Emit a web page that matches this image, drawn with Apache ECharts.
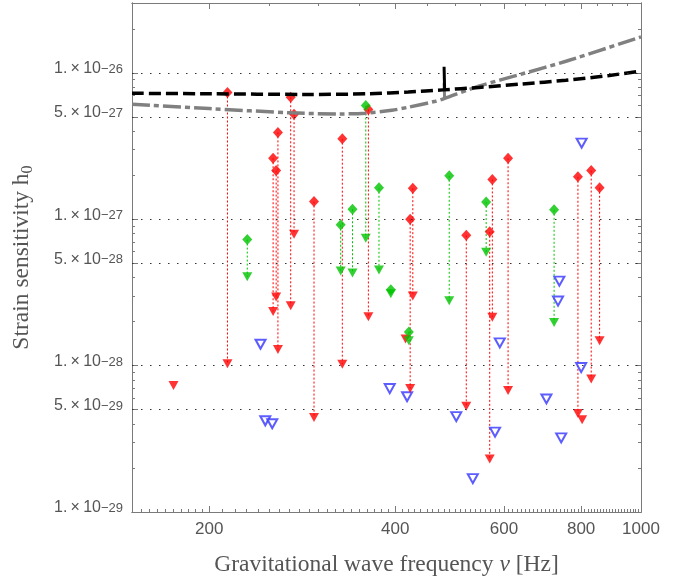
<!DOCTYPE html>
<html>
<head>
<meta charset="utf-8">
<script src="https://cdn.jsdelivr.net/npm/echarts@6/dist/echarts.min.js"></script>
<style>
	html, body { margin: 0; padding: 0; background: #fff; }
	#chart { width: 682px; height: 581px; }
</style>
</head>
<body>
<div id="chart"></div>
<script>
	// red: detections (diamond) with dotted line down to the upper limit (triangle)
	var redFreq   = [214.1, 253.8, 256.7, 258.4, 271.0, 274.4, 295.6, 328.5, 362.0, 423.0, 427.2, 521.4, 569.0, 574.6, 609.3, 790.5, 830.6, 857.0];
	var redTop    = [7.34e-27, 2.61e-27, 2.15e-27, 3.92e-27, 6.81e-27, 5.22e-27, 1.32e-27, 3.55e-27, 5.62e-27, 1.0e-27, 1.63e-27, 7.76e-28, 8.2e-28, 1.87e-27, 2.61e-27, 1.95e-27, 2.15e-27, 1.64e-27];
	var redBottom = [1.03e-28, 2.34e-28, 2.94e-28, 1.29e-28, 2.56e-28, 7.9e-28, 4.43e-29, 1.02e-28, 2.16e-28, 6.97e-29, 2.99e-28, 5.27e-29, 2.3e-29, 2.14e-28, 6.77e-29, 4.7e-29, 8.1e-29, 1.48e-28];
	// red upper limits with no diamond
	var redLimFreq = [175.1, 415.8, 803.0];
	var redLim     = [7.3e-29, 1.52e-28, 4.27e-29];

	var greenFreq   = [230.5, 326.5, 341.2, 358.5, 376.6, 393.6, 420.9, 489.3, 561.5, 723.3];
	var greenTop    = [7.26e-28, 9.17e-28, 1.17e-27, 5.98e-27, 1.64e-27, 3.3e-28, 1.7e-28, 1.98e-27, 1.31e-27, 1.16e-27];
	var greenBottom = [4.05e-28, 4.43e-28, 4.3e-28, 7.42e-28, 4.5e-28, 3.1e-28, 1.48e-28, 2.77e-28, 5.95e-28, 1.97e-28];

	var blueFreq = [242.2, 246.5, 253.0, 392.0, 418.2, 502.3, 534.3, 580.4, 590.8, 702.9, 737.6, 734.0, 742.7, 800.1, 801.5];
	var blueLim  = [1.40e-28, 4.20e-29, 4.01e-29, 6.97e-29, 6.13e-29, 4.48e-29, 1.69e-29, 3.51e-29, 1.43e-28, 5.92e-29, 3.78e-28, 2.76e-28, 3.21e-29, 9.7e-29, 3.31e-27];

	// sensitivity curves
	var blackFreq  = [150, 200, 286, 364, 420, 478, 546, 643, 756, 889, 1000];
	var blackCurve = [7.25e-27, 7.2e-27, 7.12e-27, 7.2e-27, 7.4e-27, 7.65e-27, 7.95e-27, 8.4e-27, 8.9e-27, 9.6e-27, 1.03e-26];
	var grayFreq   = [150, 200, 272, 325, 358, 395, 418, 465, 479, 546, 643, 756, 1000];
	var grayCurve  = [6.1e-27, 5.7e-27, 5.33e-27, 5.24e-27, 5.3e-27, 5.55e-27, 5.8e-27, 6.4e-27, 6.65e-27, 8.1e-27, 9.85e-27, 1.2e-26, 1.76e-26];
	// narrow spike near 480 Hz
	var spikeFreq  = [481, 480];
	var blackSpike = [7.65e-27, 1.1e-26];
	var graySpike  = [6.65e-27, 8.5e-27];

	var xLabels  = [200, 400, 600, 800, 1000];
	var yLabels  = [1e-26, 5e-27, 1e-27, 5e-28, 1e-28, 5e-29, 1e-29];
	var gridVals = [1e-26, 5e-27, 1e-27, 5e-28, 1e-28, 5e-29];

	// echarts rounds tiny numbers to 0 inside the log scale, so the y values
	// are handed over in units of 1e-29
	var Y_UNIT_EXP = -29;
	var Y_UNIT = 1e29;
	function sy(v) { return v * Y_UNIT; }

	var X_MIN = 150, X_MAX = 1000, Y_MIN = 1e-29, Y_MAX = 3e-26;
	var AXIS_GRAY = '#7a7a7a';
	var TEXT_GRAY = '#555';
	var SANS = 'Liberation Sans, Arial, sans-serif';
	var SERIF = 'Liberation Serif, Times New Roman, serif';

	// minor ticks
	var xMinor = [], xMinorTop = [];
	for (var f = 155; f < 200; f += 5) xMinor.push(f);
	for (var f2 = 210; f2 < 1000; f2 += 10) {
		if (xLabels.indexOf(f2) < 0) xMinor.push(f2);
		if (f2 % 50 == 0 && xLabels.indexOf(f2) < 0) xMinorTop.push(f2);
	}
	var yMinor = [];
	for (var n = 0; n <= 3; n++) {
		for (var k = 2; k <= 9; k++) {
			var v = k * Math.pow(10, n);
			if (k != 5 && v <= sy(Y_MAX)) yMinor.push(v);
		}
	}

	function zip(xs, ys) {
		var out = [];
		for (var i = 0; i < xs.length; i++) out.push([xs[i], sy(ys[i])]);
		return out;
	}
	function zip3(xs, a, b) {
		var out = [];
		for (var i = 0; i < xs.length; i++) out.push([xs[i], sy(a[i]), sy(b[i])]);
		return out;
	}

	function sciLabel(v) {
		var e = Math.floor(Math.log10(v) + 1e-9);
		var m = Math.round(v / Math.pow(10, e));
		var realExp = e + Y_UNIT_EXP;
		return '{m|' + m + '.\u2009\u00d7\u200910}{e|\u2212' + Math.abs(realExp) + '}';
	}

	function xAx(pos, ticks, len, labels) {
		return {
			type: 'log', position: pos, min: X_MIN, max: X_MAX,
			axisLine: { show: true, lineStyle: { color: AXIS_GRAY, width: 1 } },
			axisTick: { show: true, inside: true, length: len, customValues: ticks, lineStyle: { color: AXIS_GRAY } },
			axisLabel: labels ? {
				show: true, customValues: xLabels, margin: 9, color: TEXT_GRAY, fontSize: 17,
				fontFamily: SANS,
				formatter: function(val) { return String(Math.round(val)); }
			} : { show: false },
			splitLine: { show: false }
		};
	}
	function yAx(pos, ticks, len, labels) {
		return {
			type: 'log', position: pos, min: sy(Y_MIN), max: sy(Y_MAX),
			axisLine: { show: true, lineStyle: { color: AXIS_GRAY, width: 1 } },
			axisTick: { show: true, inside: true, length: len, customValues: ticks, lineStyle: { color: AXIS_GRAY } },
			axisLabel: labels ? {
				show: true, customValues: yLabels.map(sy), margin: 9, color: TEXT_GRAY,
				formatter: sciLabel,
				rich: {
					m: { fontSize: 16, color: TEXT_GRAY, fontFamily: SANS, lineHeight: 20, padding: [0, 0, 6, 0], verticalAlign: 'bottom' },
					e: { fontSize: 13, color: TEXT_GRAY, fontFamily: SANS, lineHeight: 11, verticalAlign: 'top' }
				}
			} : { show: false },
			splitLine: { show: false }
		};
	}

	var xAxes = [xAx('bottom', xLabels, 6, true), xAx('bottom', xMinor, 3, false), xAx('top', xLabels, 6, false), xAx('top', xMinorTop, 3, false)];
	xAxes[0].name = '{t|Gravitational wave frequency }{i|\u03bd}{t| [Hz]}';
	xAxes[0].nameLocation = 'middle';
	xAxes[0].nameGap = 41;
	xAxes[0].nameTextStyle = {
		rich: {
			t: { fontSize: 23.5, color: TEXT_GRAY, fontFamily: SERIF },
			i: { fontSize: 23.5, color: TEXT_GRAY, fontStyle: 'italic', fontFamily: SERIF }
		}
	};
	var yLabelVals = yLabels.map(sy);
	var yAxes = [yAx('left', yLabelVals, 6, true), yAx('left', yMinor, 3, false), yAx('right', yLabelVals, 6, false), yAx('right', yMinor, 3, false)];
	yAxes[0].name = '{t|Strain sensitivity h}{s|0}';
	yAxes[0].nameLocation = 'middle';
	yAxes[0].nameGap = 96;
	yAxes[0].nameRotate = 90;
	yAxes[0].nameTextStyle = {
		rich: {
			t: { fontSize: 23.5, color: TEXT_GRAY, fontFamily: SERIF, lineHeight: 26, verticalAlign: 'top' },
			s: { fontSize: 16, color: TEXT_GRAY, fontFamily: SERIF, lineHeight: 15, verticalAlign: 'bottom' }
		}
	};

	function connector(color) {
		return function(params, api) {
			var a = api.coord([api.value(0), api.value(1)]);
			var b = api.coord([api.value(0), api.value(2)]);
			return {
				type: 'line',
				shape: { x1: a[0], y1: a[1], x2: b[0], y2: b[1] },
				style: { stroke: color, lineWidth: 1, lineDash: [2, 2] }
			};
		};
	}

	var RED = '#ff0000', GREEN = '#00c400', BLUE = '#3535ff';

	var option = {
		animation: false,
		grid: { left: 132, right: 41, top: 3, bottom: 69, outerBoundsMode: 'none', containLabel: false },
		xAxis: xAxes,
		yAxis: yAxes,
		series: [
			{
				name: 'gray', type: 'line', data: zip(grayFreq, grayCurve), smooth: 0.3,
				symbol: 'none', silent: true,
				lineStyle: { color: '#808080', width: 3.5, type: [18, 4, 5, 4] },
				markLine: {
					silent: true, symbol: 'none', label: { show: false },
					lineStyle: { color: '#333', width: 1, type: [1.5, 7.5] },
					data: gridVals.map(function(g) { return { yAxis: sy(g) }; })
				}
			},
			{
				name: 'graySpike', type: 'line', data: zip(spikeFreq, graySpike), symbol: 'none', silent: true,
				lineStyle: { color: '#808080', width: 3 }
			},
			{
				name: 'black', type: 'line', data: zip(blackFreq, blackCurve), smooth: 0.3,
				symbol: 'none', silent: true,
				lineStyle: { color: '#000', width: 3.5, type: [12, 5] }
			},
			{
				name: 'blackSpike', type: 'line', data: zip(spikeFreq, blackSpike), symbol: 'none', silent: true,
				lineStyle: { color: '#000', width: 3 }
			},
			{ type: 'custom', silent: true, data: zip3(redFreq, redTop, redBottom), renderItem: connector(RED) },
			{ type: 'custom', silent: true, data: zip3(greenFreq, greenTop, greenBottom), renderItem: connector(GREEN) },
			{
				type: 'scatter', data: zip(blueFreq, blueLim), symbol: 'emptyTriangle', symbolRotate: 180,
				symbolSize: [10, 9], itemStyle: { color: BLUE, borderWidth: 1 }, silent: true
			},
			{
				type: 'scatter', data: zip(redFreq, redBottom).concat(zip(redLimFreq, redLim)), symbol: 'triangle', symbolRotate: 180,
				symbolSize: [10, 9], itemStyle: { color: RED }, silent: true
			},
			{
				type: 'scatter', data: zip(redFreq, redTop), symbol: 'diamond',
				symbolSize: [10, 11], itemStyle: { color: RED }, silent: true
			},
			{
				type: 'scatter', data: zip(greenFreq, greenBottom), symbol: 'triangle', symbolRotate: 180,
				symbolSize: [10, 9], itemStyle: { color: GREEN }, silent: true
			},
			{
				type: 'scatter', data: zip(greenFreq, greenTop), symbol: 'diamond',
				symbolSize: [10, 11], itemStyle: { color: GREEN }, silent: true
			}
		]
	};

	var myChart = echarts.init(document.getElementById('chart'), null, { renderer: 'canvas' });
	myChart.setOption(option);
</script>
</body>
</html>
